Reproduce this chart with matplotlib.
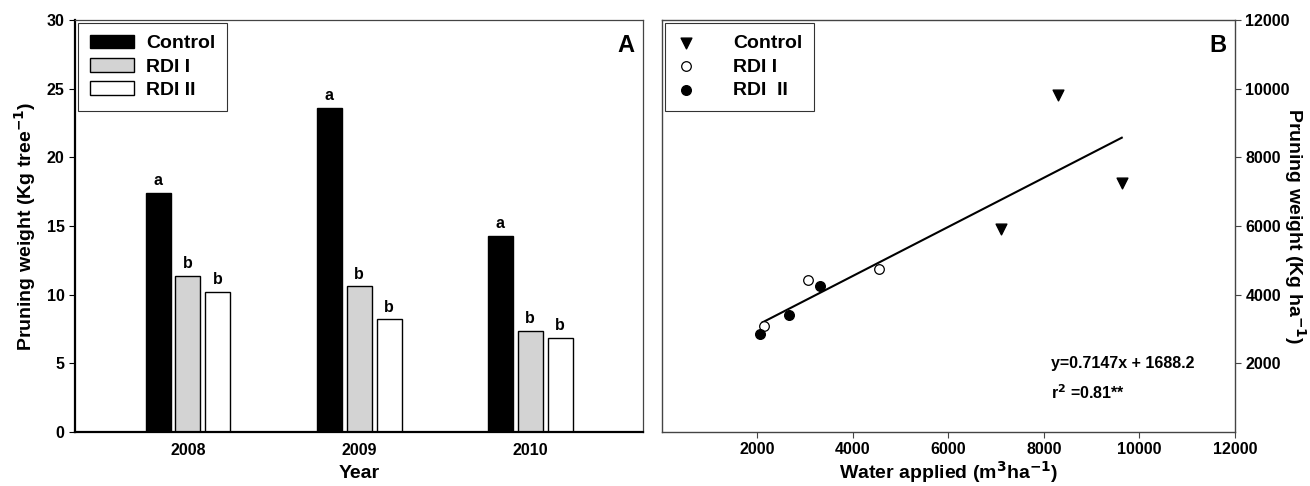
import matplotlib
matplotlib.use("Agg")
import matplotlib.pyplot as plt
from matplotlib.patches import Patch
import numpy as np

plt.rcParams['font.family'] = ['Liberation Sans Narrow', 'Liberation Sans', 'DejaVu Sans']
plt.rcParams['font.weight'] = 'bold'
plt.rcParams['axes.labelweight'] = 'bold'
plt.rcParams['mathtext.fontset'] = 'custom'
plt.rcParams['mathtext.rm'] = 'Liberation Sans Narrow:bold'
plt.rcParams['mathtext.bf'] = 'Liberation Sans Narrow:bold'
plt.rcParams['mathtext.it'] = 'Liberation Sans Narrow:bold'
plt.rcParams['axes.unicode_minus'] = False

# ---- Data: panel A ----
years = ['2008', '2009', '2010']
treatments = ['Control', 'RDI I', 'RDI II']
control_kg_tree = [17.4, 23.6, 14.3]
rdi1_kg_tree = [11.35, 10.6, 7.35]
rdi2_kg_tree = [10.2, 8.2, 6.85]
control_letters = ['a', 'a', 'a']
rdi1_letters = ['b', 'b', 'b']
rdi2_letters = ['b', 'b', 'b']

# ---- Data: panel B ----
control_water = [7100, 8290, 9630]
control_kg_ha = [5920, 9820, 7240]
rdi1_water = [2130, 3050, 4540]
rdi1_kg_ha = [3100, 4440, 4750]
rdi2_water = [2060, 2670, 3300]
rdi2_kg_ha = [2860, 3420, 4260]
fit_slope = 0.7147
fit_intercept = 1688.2
fit_x_range = [2100, 9630]

fig = plt.figure(figsize=(13.1, 4.86), dpi=100)
axA = fig.add_axes([0.0573, 0.111, 0.4336, 0.848])
axB = fig.add_axes([0.5053, 0.111, 0.4374, 0.848])

# ---- Panel A ----
x = np.arange(len(years))
w = 0.146
off = 0.175
series = [(control_kg_tree, 'black', control_letters),
          (rdi1_kg_tree, '#d3d3d3', rdi1_letters),
          (rdi2_kg_tree, 'white', rdi2_letters)]
for i, (vals, col, letters) in enumerate(series):
    pos = x + (i - 1) * off
    axA.bar(pos, vals, width=w, color=col, edgecolor='black', linewidth=1.0,
            label=treatments[i], zorder=2)
    for p, v, l in zip(pos, vals, letters):
        axA.text(p, v + 0.35, l, ha='center', va='bottom', fontsize=11.5, fontweight='bold')

axA.set_xlim(-0.66, 2.66)
axA.set_ylim(0, 30)
axA.set_xticks(x)
axA.set_xticklabels(years, fontsize=11.5, fontweight='bold')
axA.set_yticks([0, 5, 10, 15, 20, 25, 30])
axA.tick_params(axis='y', direction='out', length=4, labelsize=11.5)
axA.tick_params(axis='x', length=0, pad=8, labelsize=11.5)
axA.set_xlabel('Year', fontsize=14, fontweight='bold', labelpad=5)
axA.set_ylabel('Pruning weight (Kg tree$^{-1}$)', fontsize=14, fontweight='bold', labelpad=6)
for s in ['top', 'right']:
    axA.spines[s].set_linewidth(0.9)
    axA.spines[s].set_color('#444444')
for s in ['left', 'bottom']:
    axA.spines[s].set_linewidth(1.6)
axA.text(0.985, 0.965, 'A', transform=axA.transAxes, ha='right', va='top',
         fontsize=17, fontweight='bold')
handlesA = [Patch(facecolor='black', edgecolor='black', label='Control'),
            Patch(facecolor='#d3d3d3', edgecolor='black', label='RDI I'),
            Patch(facecolor='white', edgecolor='black', label='RDI II')]
legA = axA.legend(handles=handlesA, loc='upper left', fontsize=14, frameon=True,
                  fancybox=False, edgecolor='black', handlelength=2.3, handleheight=0.7,
                  borderaxespad=0.15, borderpad=0.6, labelspacing=0.3, handletextpad=0.6)
legA.get_frame().set_linewidth(0.8)

# ---- Panel B ----
axB.scatter(control_water, control_kg_ha, marker='v', s=60, color='black', zorder=3, label='Control')
axB.scatter(rdi1_water, rdi1_kg_ha, marker='o', s=48, facecolor='white', edgecolor='black',
            linewidth=0.9, zorder=3, label='RDI I')
axB.scatter(rdi2_water, rdi2_kg_ha, marker='o', s=48, color='black', zorder=3, label='RDI  II')
fx = np.array(fit_x_range)
axB.plot(fx, fit_slope * fx + fit_intercept, color='black', linewidth=1.5, zorder=2)
axB.text(8140, 2000, 'y=0.7147x + 1688.2', fontsize=11.5, fontweight='bold', va='center')
axB.text(8140, 1150, 'r$^{2}$ =0.81**', fontsize=11.5, fontweight='bold', va='center')

axB.set_xlim(0, 12000)
axB.set_ylim(0, 12000)
axB.set_xticks([2000, 4000, 6000, 8000, 10000, 12000])
axB.set_yticks([2000, 4000, 6000, 8000, 10000, 12000])
axB.yaxis.tick_right()
axB.yaxis.set_label_position('right')
axB.tick_params(axis='both', direction='out', length=4, labelsize=11.5, color='#444444')
axB.tick_params(axis='x', pad=3)
axB.set_xlabel('Water applied (m$^{3}$ha$^{-1}$)', fontsize=14,
               fontweight='bold', labelpad=2)
axB.set_ylabel('Pruning weight (Kg ha$^{-1}$)', fontsize=14, fontweight='bold',
               rotation=270, labelpad=13)
for s in ['top', 'left', 'right', 'bottom']:
    axB.spines[s].set_linewidth(1.0)
    axB.spines[s].set_color('#444444')
axB.text(0.985, 0.965, 'B', transform=axB.transAxes, ha='right', va='top',
         fontsize=17, fontweight='bold')
legB = axB.legend(loc='upper left', fontsize=14, frameon=True, fancybox=False,
                  edgecolor='black', handlelength=1.0, handletextpad=1.9,
                  borderaxespad=0.15, borderpad=0.6, labelspacing=0.3, scatterpoints=1)
legB.get_frame().set_linewidth(0.8)

fig.savefig('out.png', dpi=100)
